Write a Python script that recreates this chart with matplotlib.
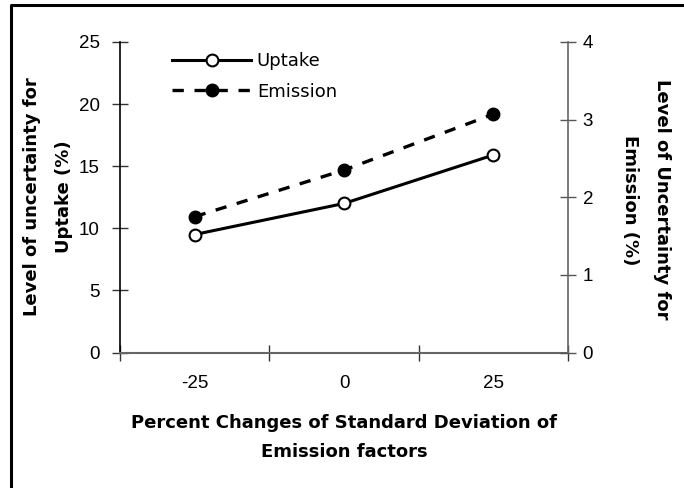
import matplotlib
matplotlib.use("Agg")
import matplotlib.pyplot as plt
from matplotlib.lines import Line2D

# Data
categories = ['-25', '0', '25']
uptake = [9.5, 12.0, 15.9]
emission = [1.75, 2.35, 3.07]
left_ticks = [0, 5, 10, 15, 20, 25]
right_ticks = [0, 1, 2, 3, 4]

plt.rcParams['font.family'] = ['Liberation Sans', 'DejaVu Sans']

fig = plt.figure(figsize=(6.84, 4.88), dpi=100)
ax = fig.add_axes([120/684, 135.5/488, 448/684, 310.5/488])
ax2 = ax.twinx()

x = list(range(len(categories)))

l1, = ax.plot(x, uptake, color='black', lw=2.2, marker='o', ms=8.5,
              mfc='white', mec='black', mew=1.5, label='Uptake', zorder=3)
l2, = ax2.plot(x, emission, color='black', lw=2.4, ls=(0, (3.4, 3.2)), marker='o',
               ms=9, mfc='black', mec='black', label='Emission', zorder=3)

ax.set_xlim(-0.5, 2.5)
ax.set_ylim(0, 25)
ax2.set_ylim(0, 4)

ax.set_xticks(x)
ax.set_xticklabels(categories)
ax.set_xticks([-0.5, 0.5, 1.5, 2.5], minor=True)
ax.tick_params(axis='x', which='major', length=0, pad=16, labelsize=13.5)
ax.tick_params(axis='x', which='minor', direction='inout', length=11, width=1.0, color='#333333')

ax.set_yticks(left_ticks)
ax.tick_params(axis='y', which='major', direction='inout', length=11, width=1.0,
               color='#333333', pad=9, labelsize=13.5)
ax2.set_yticks(right_ticks)
ax2.tick_params(axis='y', which='major', direction='inout', length=11, width=1.0,
                color='#555555', pad=5, labelsize=13.5)

for a in (ax, ax2):
    a.spines['top'].set_visible(False)
    a.patch.set_visible(False)
ax.spines['left'].set_color('black')
ax.spines['left'].set_linewidth(1.2)
ax.spines['bottom'].set_color('#666666')
ax.spines['bottom'].set_linewidth(1.5)
ax.spines['right'].set_visible(False)
ax2.spines['left'].set_visible(False)
ax2.spines['bottom'].set_visible(False)
ax2.spines['right'].set_color('#666666')
ax2.spines['right'].set_linewidth(1.2)

lab_font = dict(family=['DejaVu Sans'], fontweight='bold', fontsize=13)

# x label (two lines)
fig.text(344/684, 1 - 423/488, 'Percent Changes of Standard Deviation of',
         ha='center', va='center', **lab_font)
fig.text(344/684, 1 - 452/488, 'Emission factors',
         ha='center', va='center', **lab_font)

# left y label
fig.text(32/684, 1 - 197/488, 'Level of uncertainty for', rotation=90,
         ha='center', va='center', **lab_font)
fig.text(64/684, 1 - 197/488, 'Uptake (%)', rotation=90,
         ha='center', va='center', **lab_font)

# right y label
fig.text(662/684, 1 - 199/488, 'Level of Uncertainty for', rotation=-90,
         ha='center', va='center', **lab_font)
fig.text(630/684, 1 - 200/488, 'Emission (%)', rotation=-90,
         ha='center', va='center', **lab_font)

# legend
leg = ax.legend([l1, l2], ['Uptake', 'Emission'], loc='upper left',
                bbox_to_anchor=(52/448, 1 - 10/310.5), frameon=False,
                handlelength=4.4, handletextpad=0.3, labelspacing=0.7,
                borderpad=0, borderaxespad=0,
                prop=dict(family='DejaVu Sans', size=13))

# figure frame (left and top)
fig.add_artist(Line2D([11/684, 11/684, 1.0], [0.0, 1 - 5/488, 1 - 5/488],
                      transform=fig.transFigure, color='black', lw=2.2))

fig.savefig('out.png', dpi=100)
